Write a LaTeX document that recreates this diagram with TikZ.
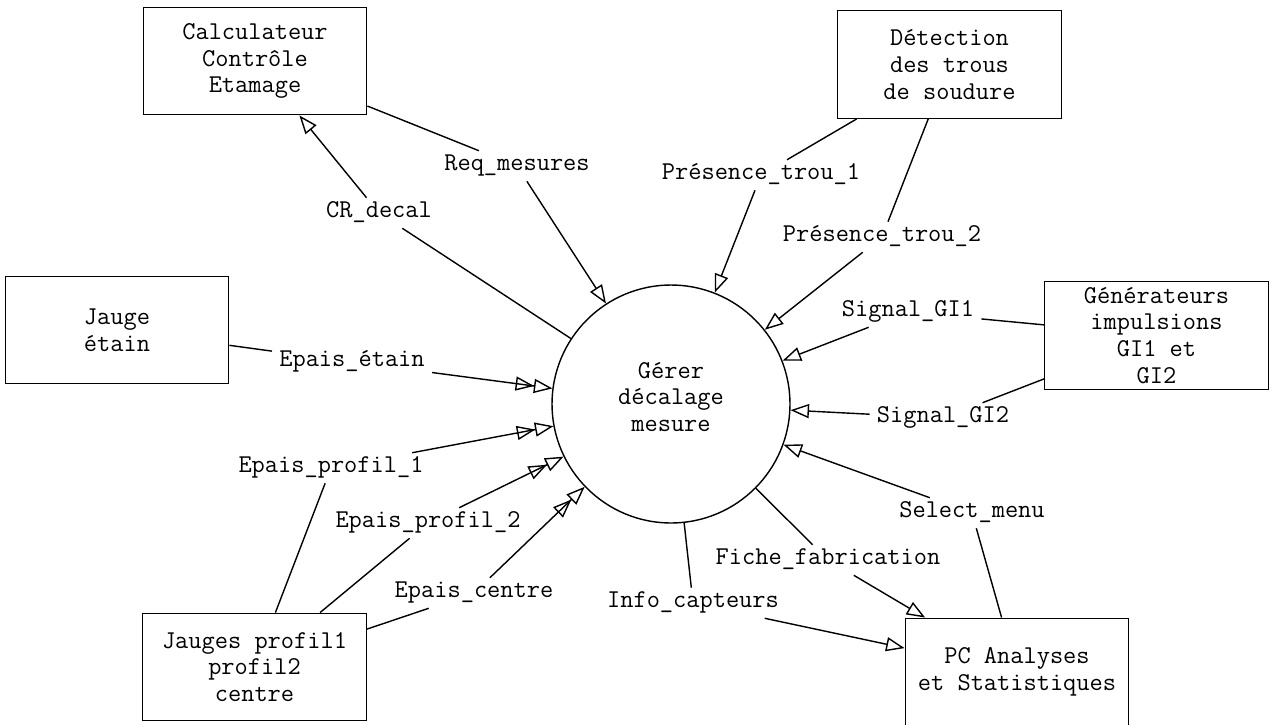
\documentclass[tikz,border=0pt]{standalone}
\usepackage{fontspec}
\usetikzlibrary{arrows.meta}
\tikzset{
  txt/.style={font=\ttfamily\fontsize{14.6pt}{15.3pt}\selectfont},
  box/.style={draw, line width=0.8pt, rectangle, minimum width=4.47cm, minimum height=2.15cm, align=center, txt, inner sep=1pt},
  proc/.style={draw, line width=0.8pt, circle, minimum size=4.76cm, inner sep=0pt},
  lbl/.style={txt, text height=9pt, text depth=4pt, inner xsep=4pt, inner ysep=2pt},
  flow/.style={line width=0.8pt},
  arr/.style={flow, -{Triangle[open, length=10.5pt, width=8pt, line width=0.8pt]}},
  darr/.style={flow, -{Triangle[open, length=10.5pt, width=8pt, line width=0.8pt] Triangle[open, length=10.5pt, width=8pt, line width=0.8pt]}}
}
\begin{document}
\begin{tikzpicture}[x=0.02cm, y=-0.02cm]
\useasboundingbox (0,0) rectangle (1272,724);
\fill[white] (0,0) rectangle (1272,724);

% process
\node[proc] (proc) at (671,404) {};
\node[txt, align=center] (proctext) at (671,397) {Gérer\\décalage\\mesure};

% terminators
\node[box] (calc)  at (255,61)    {Calculateur\\Contrôle\\Etamage};
\node[box] (det)   at (949.5,64.5) {Détection\\des trous\\de soudure};
\node[box] (jauge) at (117,330)   {Jauge\\étain};
\node[box, inner ysep=0pt] (gen) at (1156.5,335.5) {Générateurs\\impulsions\\GI1 et\\GI2};
\node[box] (jprof) at (254.5,667) {Jauges profil1\\profil2\\centre};
\node[box] (pc)    at (1017,672)  {PC Analyses\\et Statistiques};

% flow labels
\node[lbl] (lcr)    at (379,213) {CR\_decal};
\node[lbl] (lreq)   at (517,166) {Req\_mesures};
\node[lbl] (lpt1)   at (761,175) {Présence\_trou\_1};
\node[lbl] (lpt2)   at (882,237) {Présence\_trou\_2};
\node[lbl] (lgi1)   at (908,312) {Signal\_GI1};
\node[lbl] (lgi2)   at (943,418) {Signal\_GI2};
\node[lbl] (lsel)   at (972,513) {Select\_menu};
\node[lbl] (lfiche) at (828,560) {Fiche\_fabrication};
\node[lbl] (linfo)  at (693,603) {Info\_capteurs};
\node[lbl] (letain) at (352,362) {Epais\_étain};
\node[lbl] (lep1)   at (331,468) {Epais\_profil\_1};
\node[lbl] (lep2)   at (428,523) {Epais\_profil\_2};
\node[lbl] (lepc)   at (474,593) {Epais\_centre};

% flows
\draw[flow] (calc) -- (lreq);
\draw[arr]  (lreq) -- (proc);
\draw[flow] (proc) -- (lcr);
\draw[arr]  (lcr) -- (calc);
\draw[flow] (det) -- (lpt1);
\draw[arr]  (lpt1) -- (proc);
\draw[flow] (det) -- (lpt2);
\draw[arr]  (lpt2) -- (proc);
\draw[flow] (gen) -- (lgi1);
\draw[arr]  (lgi1) -- (proc);
\draw[flow] (gen) -- (lgi2);
\draw[arr]  (lgi2) -- (proc);
\draw[flow] (pc) -- (lsel);
\draw[arr]  (lsel) -- (proc);
\draw[flow] (proc) -- (lfiche);
\draw[arr]  (lfiche) -- (pc);
\draw[flow] (proc) -- (linfo);
\draw[arr]  (linfo) -- (pc);
\draw[flow] (jauge) -- (letain);
\draw[darr] (letain) -- (proc);
\draw[flow] (jprof) -- (lep1);
\draw[darr] (lep1) -- (proc);
\draw[flow] (jprof) -- (lep2);
\draw[darr] (lep2) -- (proc);
\draw[flow] (jprof) -- (lepc);
\draw[darr] (lepc) -- (proc);
\end{tikzpicture}
\end{document}
